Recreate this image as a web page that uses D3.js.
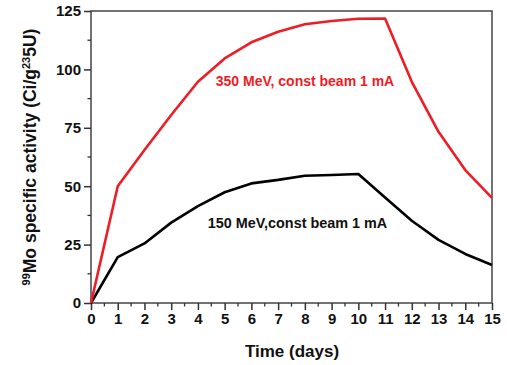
<!DOCTYPE html>
<html><head><meta charset="utf-8">
<script src="https://cdn.jsdelivr.net/npm/d3@7"></script>
<style>body{margin:0;background:#fff}text{font-family:"Liberation Sans",Arial,sans-serif;font-weight:bold}</style>
</head><body><svg id="c" width="507" height="365"></svg>
<script>
const days = [0,1,2,3,4,5,6,7,8,9,10,11,12,13,14,15];
const red350 = [0,50,65.5,80.5,94.7,104.7,111.6,116.1,119.3,120.7,121.7,121.8,94.7,73.3,56.9,45];
const black150 = [0,19.6,25.5,34.4,41.5,47.4,51.2,52.7,54.5,54.8,55.2,45.2,35.2,27,21,16.3];
const xTicks = d3.range(0,16,1);
const yTicks = [0,25,50,75,100,125];
const labels = {red:"350 MeV, const beam 1 mA", black:"150 MeV,const beam 1 mA"};

const svg = d3.select("#c");
const x = d3.scaleLinear().domain([0,15]).range([91,492]);
const y = d3.scaleLinear().domain([0,125]).range([303,11]);

// frame
svg.append("rect").attr("x",91).attr("y",11).attr("width",401).attr("height",292)
  .attr("fill","none").attr("stroke","#444").attr("stroke-width",1.5);

// x axis
const gx = svg.append("g").attr("transform","translate(0,303)");
gx.call(d3.axisBottom(x).tickValues(xTicks).tickFormat(d3.format("d")).tickSize(7).tickPadding(3));
d3.range(0.5,15,1).forEach(v=>{
  gx.append("line").attr("x1",x(v)).attr("x2",x(v)).attr("y1",0).attr("y2",3.5).attr("stroke","#333").attr("stroke-width",1.3);
});
// y axis
const gy = svg.append("g").attr("transform","translate(91,0)");
gy.call(d3.axisLeft(y).tickValues(yTicks).tickSize(7).tickPadding(3));
d3.range(12.5,125,25).forEach(v=>{
  gy.append("line").attr("x1",0).attr("x2",-3.5).attr("y1",y(v)).attr("y2",y(v)).attr("stroke","#333").attr("stroke-width",1.3);
});
[gx,gy].forEach(g=>{
  g.select(".domain").remove();
  g.selectAll(".tick line").attr("stroke","#333").attr("stroke-width",1.5);
  g.selectAll(".tick text").attr("font-size",15).attr("fill","#111")
   .style("font-family","'Liberation Sans',Arial,sans-serif").style("font-weight","bold");
});

const line = d3.line().x((d,i)=>x(days[i])).y(d=>y(d));
svg.append("path").datum(black150).attr("d",line).attr("fill","none").attr("stroke","#000").attr("stroke-width",2.6).attr("stroke-linejoin","round");
svg.append("path").datum(red350).attr("d",line).attr("fill","none").attr("stroke","#ee1c25").attr("stroke-width",2.6).attr("stroke-linejoin","round");

svg.append("text").attr("x",305).attr("y",86).attr("text-anchor","middle").attr("font-size",14).attr("fill","#ee1c25").text(labels.red);
svg.append("text").attr("x",297.5).attr("y",228).attr("text-anchor","middle").attr("font-size",14.4).attr("fill","#111").text(labels.black);

svg.append("text").attr("x",292).attr("y",357).attr("text-anchor","middle").attr("font-size",17).attr("fill","#111").text("Time (days)");

const yl = svg.append("text").attr("transform","translate(36,157) rotate(-90)").attr("text-anchor","middle").attr("font-size",17.5).attr("fill","#111");
yl.append("tspan").attr("font-size",11).attr("dy",-6).text("99");
yl.append("tspan").attr("dy",6).text("Mo specific activity (Ci/g");
yl.append("tspan").attr("font-size",11).attr("dy",-6).text("23");
yl.append("tspan").attr("dy",6).text("5U)");
</script></body></html>
